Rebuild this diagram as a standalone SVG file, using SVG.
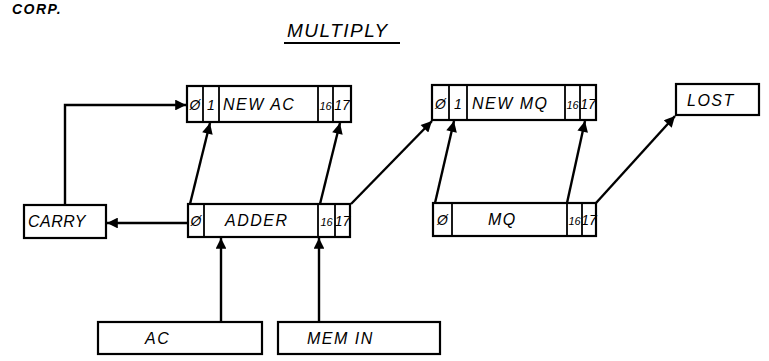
<svg xmlns="http://www.w3.org/2000/svg" width="769" height="361" viewBox="0 0 769 361">
<defs>
<marker id="ah" viewBox="0 0 10 10" refX="10" refY="5" markerWidth="6.5" markerHeight="4.5" orient="auto" markerUnits="strokeWidth">
<path d="M0,0 L10,5 L0,10 z" fill="#000"/>
</marker>
<style>
.box{fill:#fff;stroke:#000;stroke-width:2.2}
.div{stroke:#000;stroke-width:1.8}
.t{font-family:"Liberation Sans",Arial,sans-serif;font-style:italic;font-size:16px;fill:#000;letter-spacing:1.5px}
.s{font-family:"Liberation Sans",Arial,sans-serif;font-style:italic;font-size:14px;fill:#000}
.c{stroke:#000;stroke-width:2.4;fill:none}
</style>
</defs>
<rect width="769" height="361" fill="#fff"/>
<text x="12" y="14" class="t" font-weight="bold" style="font-size:14px">CORP.</text>
<g id="title">
<text x="287" y="37" class="t" style="font-size:19px">MULTIPLY</text>
<line x1="284" y1="43" x2="400" y2="43" stroke="#000" stroke-width="2"/>
</g>
<g id="newac">
<rect x="187" y="86" width="164" height="36" class="box"/>
<line x1="203" y1="86" x2="203" y2="122" class="div"/>
<line x1="219" y1="86" x2="219" y2="122" class="div"/>
<line x1="318" y1="86" x2="318" y2="122" class="div"/>
<line x1="333" y1="86" x2="333" y2="122" class="div"/>
<text x="195" y="110" class="s" text-anchor="middle">Ø</text>
<text x="211" y="110" class="s" text-anchor="middle">1</text>
<text x="223" y="110" class="t">NEW AC</text>
<text x="325.5" y="110" class="s" text-anchor="middle" style="font-size:11px">16</text>
<text x="342" y="110" class="s" text-anchor="middle">17</text>
</g>
<g id="newmq">
<rect x="432" y="85" width="164" height="35" class="box"/>
<line x1="449" y1="85" x2="449" y2="120" class="div"/>
<line x1="467" y1="85" x2="467" y2="120" class="div"/>
<line x1="565" y1="85" x2="565" y2="120" class="div"/>
<line x1="580" y1="85" x2="580" y2="120" class="div"/>
<text x="440.5" y="109" class="s" text-anchor="middle">Ø</text>
<text x="458" y="109" class="s" text-anchor="middle">1</text>
<text x="472" y="109" class="t">NEW MQ</text>
<text x="572.5" y="109" class="s" text-anchor="middle" style="font-size:11px">16</text>
<text x="588" y="109" class="s" text-anchor="middle">17</text>
</g>
<g id="lost">
<rect x="676" y="84" width="83" height="31" class="box"/>
<text x="687" y="106" class="t">LOST</text>
</g>
<g id="carry">
<rect x="24" y="205" width="82" height="33" class="box"/>
<text x="28" y="227" class="t" style="letter-spacing:0.5px">CARRY</text>
</g>
<g id="adder">
<rect x="188" y="204" width="162" height="33" class="box"/>
<line x1="204" y1="204" x2="204" y2="237" class="div"/>
<line x1="318" y1="204" x2="318" y2="237" class="div"/>
<line x1="335" y1="204" x2="335" y2="237" class="div"/>
<text x="196" y="226" class="s" text-anchor="middle">Ø</text>
<text x="225" y="226" class="t">ADDER</text>
<text x="326.5" y="226" class="s" text-anchor="middle" style="font-size:11px">16</text>
<text x="342.5" y="226" class="s" text-anchor="middle">17</text>
</g>
<g id="mq">
<rect x="433" y="203" width="163" height="33" class="box"/>
<line x1="452" y1="203" x2="452" y2="236" class="div"/>
<line x1="567" y1="203" x2="567" y2="236" class="div"/>
<line x1="582" y1="203" x2="582" y2="236" class="div"/>
<text x="442.5" y="225" class="s" text-anchor="middle">Ø</text>
<text x="488" y="225" class="t">MQ</text>
<text x="574.5" y="225" class="s" text-anchor="middle" style="font-size:11px">16</text>
<text x="589" y="225" class="s" text-anchor="middle">17</text>
</g>
<g id="ac">
<rect x="98" y="322" width="164" height="32" class="box"/>
<text x="145" y="344" class="t">AC</text>
</g>
<g id="memin">
<rect x="278" y="322" width="162" height="32" class="box"/>
<text x="307" y="344" class="t">MEM IN</text>
</g>
<g id="connectors">
<path d="M65,205 V105 H186" class="c" marker-end="url(#ah)"/>
<path d="M188,223 H107" class="c" marker-end="url(#ah)"/>
<path d="M190,204 L210,123" class="c" marker-end="url(#ah)"/>
<path d="M320,204 L340,123" class="c" marker-end="url(#ah)"/>
<path d="M351,204 L432,121" class="c" marker-end="url(#ah)"/>
<path d="M435,203 L454,121" class="c" marker-end="url(#ah)"/>
<path d="M567,203 L585,121" class="c" marker-end="url(#ah)"/>
<path d="M596,203 L675,116" class="c" marker-end="url(#ah)"/>
<path d="M221,322 V238" class="c" marker-end="url(#ah)"/>
<path d="M319,322 V238" class="c" marker-end="url(#ah)"/>
</g>
</svg>
